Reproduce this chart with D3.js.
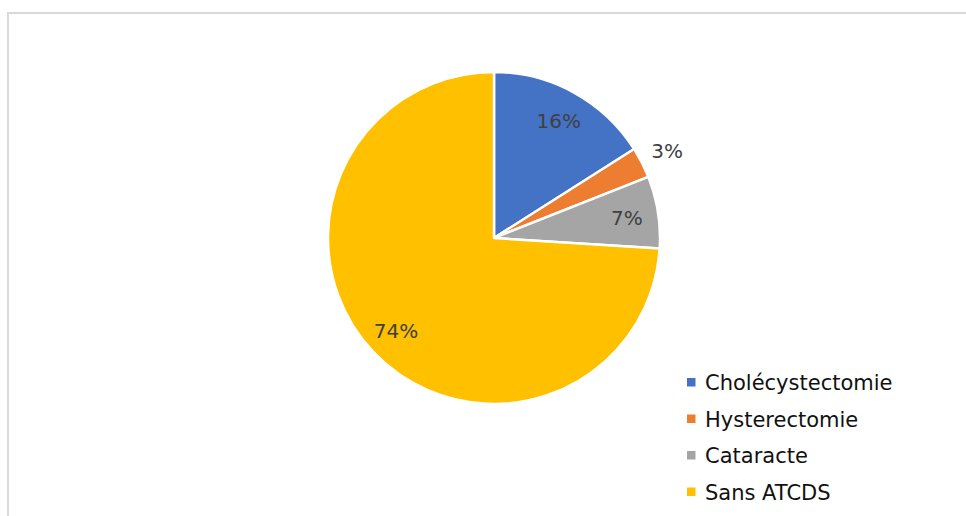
<!DOCTYPE html>
<html>
<head>
<meta charset="utf-8">
<script src="https://cdn.jsdelivr.net/npm/d3@7"></script>
<style>
  html, body { margin: 0; padding: 0; background: #fff; }
  svg { display: block; }
</style>
</head>
<body>
<svg id="chart" width="966" height="516"></svg>
<script>
// Répartition des antécédents chirurgicaux
const categories = ["Cholécystectomie", "Hysterectomie", "Cataracte", "Sans ATCDS"];
const percentages = [16, 3, 7, 74];
const colors = ["#4472C4", "#ED7D31", "#A5A5A5", "#FFC000"];
// labels placed outside the slice (too narrow to hold text)
const outsideLabels = ["Hysterectomie"];

const svg = d3.select("#chart");

// chart area frame
svg.append("rect")
  .attr("x", 8).attr("y", 13)
  .attr("width", 1000).attr("height", 600)
  .attr("fill", "none")
  .attr("stroke", "#d9d9d9")
  .attr("stroke-width", 2);

const cx = 494, cy = 238, radius = 166;

const data = categories.map((c, i) => ({ name: c, value: percentages[i], color: colors[i] }));

const pie = d3.pie().value(d => d.value).sort(null);
const arcs = pie(data);

const arc = d3.arc().innerRadius(0).outerRadius(radius);
const labelArcIn = d3.arc().innerRadius(radius * 0.81).outerRadius(radius * 0.81);
const labelArcOut = d3.arc().innerRadius(radius * 1.17).outerRadius(radius * 1.17);

const g = svg.append("g").attr("transform", `translate(${cx},${cy})`);

g.selectAll("path.slice")
  .data(arcs)
  .join("path")
  .attr("class", "slice")
  .attr("d", arc)
  .attr("fill", d => d.data.color)
  .attr("stroke", "#ffffff")
  .attr("stroke-width", 2.5)
  .attr("stroke-linejoin", "round");

const fmt = v => v + "%";

g.selectAll("text.pct")
  .data(arcs)
  .join("text")
  .attr("class", "pct")
  .attr("transform", d => {
    const a = outsideLabels.includes(d.data.name) ? labelArcOut : labelArcIn;
    const [x, y] = a.centroid(d);
    return `translate(${x},${y})`;
  })
  .attr("text-anchor", "middle")
  .attr("dy", "0.4em")
  .attr("font-family", "'DejaVu Sans', sans-serif")
  .attr("font-size", 20)
  .attr("fill", "#404040")
  .text(d => fmt(d.data.value));

// legend
const legend = svg.append("g").attr("transform", "translate(687,382.5)");
const rowH = 36.5;
const items = legend.selectAll("g.item")
  .data(data)
  .join("g")
  .attr("class", "item")
  .attr("transform", (d, i) => `translate(0,${i * rowH})`);

items.append("rect")
  .attr("x", 0).attr("y", -4.5)
  .attr("width", 8.5).attr("height", 8.5)
  .attr("fill", d => d.color);

items.append("text")
  .attr("x", 18)
  .attr("y", 0)
  .attr("dy", "0.36em")
  .attr("font-family", "'DejaVu Sans', sans-serif")
  .attr("font-size", 21)
  .attr("fill", "#111111")
  .text(d => d.name);
</script>
</body>
</html>
